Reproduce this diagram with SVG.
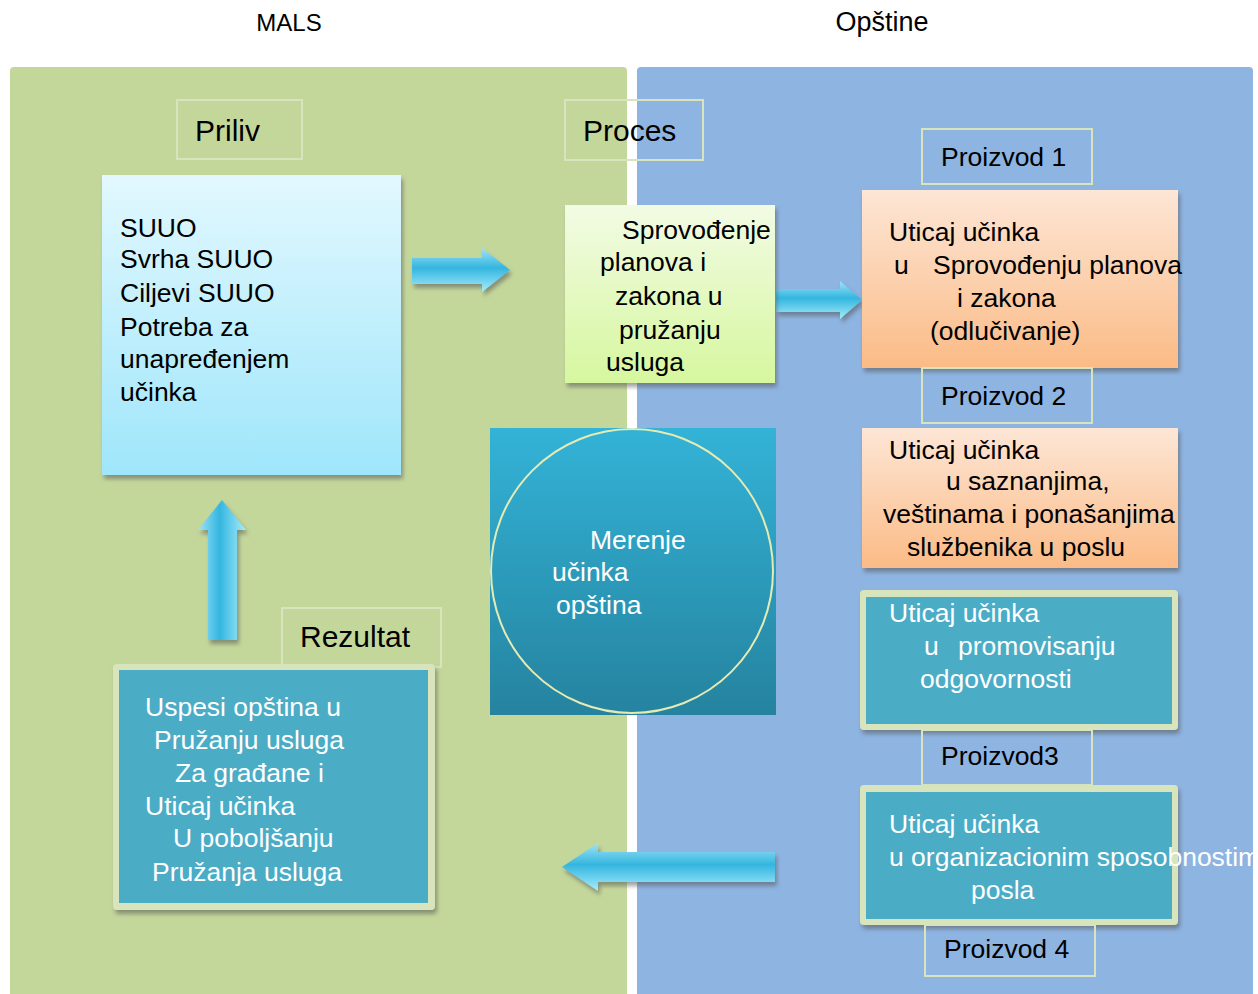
<svg xmlns="http://www.w3.org/2000/svg" width="1258" height="994" viewBox="0 0 1258 994">
<style>
text{font-family:"Liberation Sans",Arial,sans-serif;font-size:26.5px;fill:#000}
.t{font-size:30px}
.h{font-size:24px}
.h2{font-size:27px}
.w{fill:#fff}
.lbl{fill:none;stroke:#d7e4bd;stroke-width:2}
.frame{fill:#d8e4bc}
.teal{fill:#4bacc6}
</style>
<defs>
<linearGradient id="gCyan" x1="0" y1="0" x2="0" y2="1"><stop offset="0" stop-color="#e2f8fe"/><stop offset="1" stop-color="#9fe6fb"/></linearGradient>
<linearGradient id="gLime" x1="0" y1="0" x2="0" y2="1"><stop offset="0" stop-color="#f2fbe4"/><stop offset="1" stop-color="#d6f79f"/></linearGradient>
<linearGradient id="gOrange" x1="0" y1="0" x2="0" y2="1"><stop offset="0" stop-color="#fde6d6"/><stop offset="1" stop-color="#fbbb86"/></linearGradient>
<linearGradient id="gCircle" x1="0" y1="0" x2="0" y2="1"><stop offset="0" stop-color="#33b3d7"/><stop offset="1" stop-color="#25839f"/></linearGradient>
<linearGradient id="gArrH" x1="0" y1="0" x2="0" y2="1"><stop offset="0" stop-color="#9fe3f5"/><stop offset="0.45" stop-color="#34b6e0"/><stop offset="1" stop-color="#a6ecfb"/></linearGradient>
<linearGradient id="gArrV" x1="0" y1="0" x2="1" y2="0"><stop offset="0" stop-color="#9fe3f5"/><stop offset="0.45" stop-color="#34b6e0"/><stop offset="1" stop-color="#a6ecfb"/></linearGradient>
<filter id="sh" x="-10%" y="-10%" width="125%" height="125%"><feDropShadow dx="2" dy="4" stdDeviation="2" flood-color="#555" flood-opacity="0.55"/></filter>
</defs>

<g id="panels">
<rect x="10" y="67" width="617" height="930" rx="4" fill="#c4d79b"/>
<rect x="637" y="67" width="616" height="930" rx="4" fill="#8eb4e2"/>
</g>

<g id="headers">
<text class="h" x="289" y="31" text-anchor="middle">MALS</text>
<text class="h2" x="882" y="31" text-anchor="middle">Opštine</text>
</g>

<g id="connectors">
<polygon points="412,258 482,258 482,248 510,270 482,292 482,284 412,284" fill="url(#gArrH)" filter="url(#sh)"/>
<polygon points="776,289 840,289 840,281 862,300 840,319 840,312 776,312" fill="url(#gArrH)" filter="url(#sh)"/>
<polygon points="775,852 598,852 598,843 562,867 598,891 598,882 775,882" fill="url(#gArrH)" filter="url(#sh)"/>
<polygon points="208,640 208,530 198,530 222,500 246,530 237,530 237,640" fill="url(#gArrV)" filter="url(#sh)"/>
</g>

<g id="priliv">
<rect class="lbl" x="177" y="100" width="125" height="59"/>
<text class="t" x="195" y="141">Priliv</text>
</g>

<g id="proces">
<rect class="lbl" x="565" y="100" width="138" height="60"/>
<text class="t" x="583" y="141">Proces</text>
</g>

<g id="suuo">
<rect x="102" y="175" width="299" height="300" fill="url(#gCyan)" filter="url(#sh)"/>
<text x="120" y="237">SUUO</text>
<text x="120" y="268">Svrha SUUO</text>
<text x="120" y="302">Ciljevi SUUO</text>
<text x="120" y="336">Potreba za</text>
<text x="120" y="368">unapređenjem</text>
<text x="120" y="401">učinka</text>
</g>

<g id="sprovodjenje">
<rect x="565" y="205" width="210" height="178" fill="url(#gLime)" filter="url(#sh)"/>
<text x="622" y="239">Sprovođenje</text>
<text x="600" y="271">planova i</text>
<text x="615" y="305">zakona u</text>
<text x="619" y="339">pružanju</text>
<text x="606" y="371">usluga</text>
</g>

<g id="proizvod1">
<rect class="lbl" x="922" y="129" width="170" height="55"/>
<text x="941" y="166">Proizvod 1</text>
</g>

<g id="uticaj1">
<rect x="862" y="190" width="316" height="178" fill="url(#gOrange)" filter="url(#sh)"/>
<text x="889" y="241">Uticaj učinka</text>
<text x="894" y="274">u</text>
<text x="933" y="274">Sprovođenju planova</text>
<text x="957" y="307">i zakona</text>
<text x="930" y="340">(odlučivanje)</text>
</g>

<g id="proizvod2">
<rect class="lbl" x="922" y="368" width="170" height="55"/>
<text x="941" y="405">Proizvod 2</text>
</g>

<g id="uticaj2">
<rect x="862" y="428" width="316" height="140" fill="url(#gOrange)" filter="url(#sh)"/>
<text x="889" y="459">Uticaj učinka</text>
<text x="946" y="490">u saznanjima,</text>
<text x="883" y="523">veštinama i ponašanjima</text>
<text x="907" y="556">službenika u poslu</text>
</g>

<g id="merenje">
<rect x="490" y="428" width="286" height="287" fill="url(#gCircle)"/>
<ellipse cx="632" cy="571" rx="141" ry="142" fill="none" stroke="#e6ebb3" stroke-width="2"/>
<text class="w" x="590" y="549">Merenje</text>
<text class="w" x="552" y="581">učinka</text>
<text class="w" x="556" y="614">opština</text>
</g>

<g id="uticaj3">
<rect class="frame" x="860" y="590" width="318" height="140" rx="4" filter="url(#sh)"/>
<rect class="teal" x="866" y="597" width="306" height="127"/>
<text class="w" x="889" y="622">Uticaj učinka</text>
<text class="w" x="924" y="655">u</text>
<text class="w" x="958" y="655">promovisanju</text>
<text class="w" x="920" y="688">odgovornosti</text>
</g>

<g id="proizvod3">
<rect class="lbl" x="922" y="730" width="170" height="55"/>
<text x="941" y="765">Proizvod3</text>
</g>

<g id="uticaj4">
<rect class="frame" x="860" y="785" width="318" height="140" rx="4" filter="url(#sh)"/>
<rect class="teal" x="866" y="792" width="306" height="127"/>
<text class="w" x="889" y="833">Uticaj učinka</text>
<text class="w" x="889" y="866">u organizacionim sposobnostima</text>
<text class="w" x="971" y="899">posla</text>
</g>

<g id="proizvod4">
<rect class="lbl" x="925" y="925" width="170" height="51"/>
<text x="944" y="958">Proizvod 4</text>
</g>

<g id="rezultat">
<rect class="lbl" x="282" y="608" width="159" height="59"/>
<text class="t" x="300" y="647">Rezultat</text>
</g>

<g id="uspesi">
<rect class="frame" x="113" y="664" width="322" height="246" rx="4" filter="url(#sh)"/>
<rect class="teal" x="119" y="670" width="309" height="233"/>
<text class="w" x="145" y="716">Uspesi opština u</text>
<text class="w" x="154" y="749">Pružanju usluga</text>
<text class="w" x="175" y="782">Za građane i</text>
<text class="w" x="145" y="815">Uticaj učinka</text>
<text class="w" x="173" y="847">U poboljšanju</text>
<text class="w" x="152" y="881">Pružanja usluga</text>
</g>
</svg>
